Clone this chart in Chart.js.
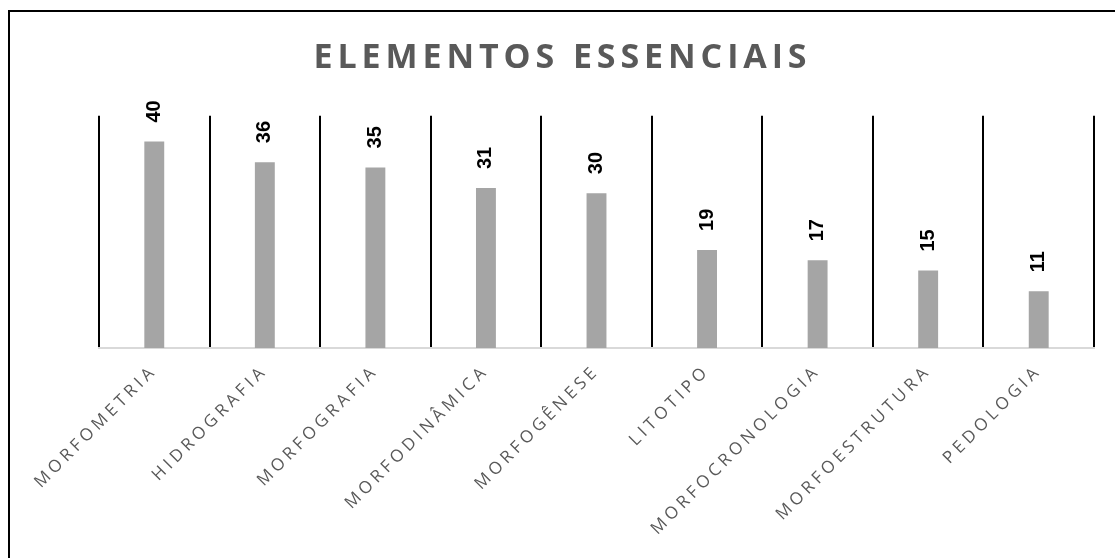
<!DOCTYPE html>
<html>
<head>
<meta charset="utf-8">
<script src="https://cdn.jsdelivr.net/npm/chart.js@4.4.1/dist/chart.umd.min.js"></script>
<style>
  html, body { margin: 0; padding: 0; background: #fff; overflow: hidden; }
  #frame {
    position: absolute; left: 8px; top: 10px;
    width: 1200px; height: 700px;
    border: 2px solid #000;
  }
  #wrap { position: absolute; left: 0; top: 0; width: 1115px; height: 558px; }
</style>
</head>
<body>
<div id="frame"></div>
<div id="wrap"><canvas id="elementosChart"></canvas></div>
<script>
// Categorias e contagens
const categorias = ['MORFOMETRIA', 'HIDROGRAFIA', 'MORFOGRAFIA', 'MORFODINÂMICA', 'MORFOGÊNESE',
                    'LITOTIPO', 'MORFOCRONOLOGIA', 'MORFOESTRUTURA', 'PEDOLOGIA'];
const valores = [40, 36, 35, 31, 30, 19, 17, 15, 11];
const escalaMin = 0;
const escalaMax = 45;

// espaçamento entre letras: título (antes dos datasets) e rótulos do eixo x (depois, z = 1)
const spacingPlugin = {
    id: 'spacing',
    beforeDraw(chart) {
        chart.ctx.letterSpacing = '4.9px';
    },
    afterDatasetsDraw(chart) {
        const ctx = chart.ctx;
        const meta = chart.getDatasetMeta(0);
        ctx.save();
        ctx.letterSpacing = '0px';
        ctx.font = 'bold 20px "Liberation Sans", Arial, sans-serif';
        ctx.fillStyle = '#000';
        ctx.textAlign = 'left';
        ctx.textBaseline = 'middle';
        meta.data.forEach(function(bar, i) {
            ctx.save();
            ctx.translate(bar.x, bar.y - 19);
            ctx.rotate(-Math.PI / 2);
            ctx.fillText(String(valores[i]), 0, 0);
            ctx.restore();
        });
        ctx.restore();
        ctx.letterSpacing = '4px';
    }
};

const ctx = document.getElementById('elementosChart').getContext('2d');

new Chart(ctx, {
    type: 'bar',
    data: {
        labels: categorias,
        datasets: [{
            data: valores,
            backgroundColor: '#a5a5a5',
            borderWidth: 0,
            categoryPercentage: 0.2,
            barPercentage: 0.9
        }]
    },
    options: {
        responsive: true,
        maintainAspectRatio: false,
        animation: false,
        layout: {
            padding: { left: 31, right: 21, top: 0, bottom: 0 }
        },
        scales: {
            x: {
                grid: {
                    display: true,
                    offset: true,
                    color: '#000',
                    lineWidth: 2,
                    drawTicks: false
                },
                border: {
                    display: true,
                    color: '#d9d9d9',
                    width: 2
                },
                ticks: {
                    z: 1,
                    autoSkip: false,
                    maxRotation: 45,
                    minRotation: 45,
                    padding: 13,
                    color: '#595959',
                    font: { family: '"Open Sans", sans-serif', size: 17 }
                },
                afterFit: function(scale) {
                    scale.height = 210;
                }
            },
            y: {
                min: escalaMin,
                max: escalaMax,
                display: true,
                grid: { display: false },
                border: { display: false },
                ticks: { display: false },
                afterFit: function(scale) {
                    scale.width = 68;
                }
            }
        },
        plugins: {
            legend: { display: false },
            tooltip: { enabled: false },
            title: {
                display: true,
                text: 'ELEMENTOS ESSENCIAIS',
                color: '#595959',
                font: { family: '"Open Sans", sans-serif', size: 34, weight: 'bold', lineHeight: 1.2 },
                padding: { top: 38, bottom: 37 }
            }
        }
    },
    plugins: [spacingPlugin]
});
</script>
</body>
</html>
